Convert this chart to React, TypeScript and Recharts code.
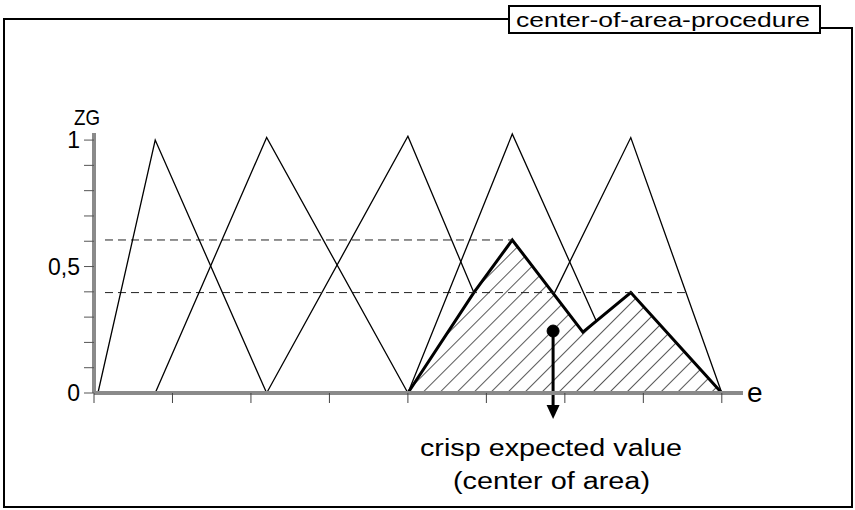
import React from 'react';
import { ComposedChart, Line, Area, XAxis, YAxis, ReferenceDot, ReferenceLine } from 'recharts';

const xTicks = [0, 1, 2, 3, 4, 5, 6, 7, 8];
const yTicks = [0, 0.1, 0.2, 0.3, 0.4, 0.5, 0.6, 0.7, 0.8, 0.9, 1];
const yTickLabels: Record<string, string> = { '0': '0', '0.5': '0,5', '1': '1' };

const triangle1 = [{ x: 0.05, y: 0 }, { x: 0.78, y: 1.0 }, { x: 2.2, y: 0 }];
const triangle2 = [{ x: 0.78, y: 0 }, { x: 2.2, y: 1.01 }, { x: 4.0, y: 0 }];
const triangle3 = [{ x: 2.2, y: 0 }, { x: 4.0, y: 1.015 }, { x: 4.84, y: 0.397 }];
const triangle4 = [{ x: 4.0, y: 0 }, { x: 5.33, y: 1.024 }, { x: 6.4, y: 0.285 }];
const triangle5 = [{ x: 5.87, y: 0.397 }, { x: 6.84, y: 1.01 }, { x: 8.0, y: 0 }];
const upperCut = [{ x: 0.14, y: 0.605 }, { x: 5.33, y: 0.605 }];
const lowerCut = [{ x: 0.14, y: 0.397 }, { x: 7.55, y: 0.397 }];
const resultArea = [
  { x: 4.0, y: 0 },
  { x: 4.84, y: 0.397 },
  { x: 5.33, y: 0.605 },
  { x: 6.23, y: 0.241 },
  { x: 6.84, y: 0.397 },
  { x: 8.0, y: 0 },
];
const centroid = { x: 5.85, y: 0.245 };
const arrowEndY = -0.103;

const FONT = '"Liberation Sans", Arial, Helvetica, sans-serif';

const YTick = (props: any) => {
  const { x, y, payload } = props;
  const label = yTickLabels[String(payload.value)];
  if (!label) return <g />;
  return (
    <text x={x} y={y} dy={8} textAnchor="end" fontSize={23} fill="#000" fontFamily={FONT}>
      {label}
    </text>
  );
};

const EmptyTick = () => <g />;

const ArrowShape = (props: any) => {
  const { x1, y1, x2, y2 } = props;
  const head = 14;
  return (
    <g>
      <line x1={x1} y1={y1} x2={x2} y2={y2 - head + 1} stroke="#000" strokeWidth={3} />
      <polygon points={`${x2 - 6.5},${y2 - head} ${x2 + 6.5},${y2 - head} ${x2},${y2}`} fill="#000" />
    </g>
  );
};

export default function App() {
  const thin = { stroke: '#000', strokeWidth: 1.3, dot: false, activeDot: false, isAnimationActive: false, type: 'linear' as const };
  return (
    <div style={{ position: 'absolute', left: 0, top: 0, width: 855, height: 510, background: '#fff' }}>
      <ComposedChart
        width={855}
        height={510}
        margin={{ top: 133, right: 112, bottom: 116, left: 93 }}
        style={{ fontFamily: FONT }}
      >
        <defs>
          <pattern id="hatch" patternUnits="userSpaceOnUse" width="12" height="12" patternTransform="rotate(45)">
            <line x1="0" y1="-2" x2="0" y2="14" stroke="#000" strokeWidth="1.3" />
          </pattern>
        </defs>
        <XAxis
          type="number"
          dataKey="x"
          domain={[0, 8.27]}
          ticks={xTicks}
          height={1}
          tickSize={10}
          tick={EmptyTick}
          tickLine={{ stroke: '#444', strokeWidth: 1 }}
          axisLine={{ stroke: '#8a8a8a', strokeWidth: 4 }}
          interval={0}
        />
        <YAxis
          type="number"
          dataKey="y"
          domain={[0, 1.028]}
          ticks={yTicks}
          width={1}
          tickSize={10}
          tickMargin={4}
          tick={YTick}
          tickLine={{ stroke: '#555', strokeWidth: 1 }}
          axisLine={{ stroke: '#8a8a8a', strokeWidth: 4 }}
          interval={0}
        />
        <Area
          data={resultArea}
          dataKey="y"
          type="linear"
          stroke="#000"
          strokeWidth={3}
          strokeLinejoin="miter"
          fill="url(#hatch)"
          fillOpacity={1}
          dot={false}
          activeDot={false}
          baseValue={0}
          isAnimationActive={false}
        />
        <Line data={upperCut} dataKey="y" {...thin} stroke="#222" strokeWidth={1} strokeDasharray="8 5" />
        <Line data={lowerCut} dataKey="y" {...thin} stroke="#222" strokeWidth={1} strokeDasharray="8 5" />
        <Line data={triangle1} dataKey="y" {...thin} />
        <Line data={triangle2} dataKey="y" {...thin} />
        <Line data={triangle3} dataKey="y" {...thin} />
        <Line data={triangle4} dataKey="y" {...thin} />
        <Line data={triangle5} dataKey="y" {...thin} />
        <ReferenceLine
          segment={[{ x: centroid.x, y: centroid.y }, { x: centroid.x, y: arrowEndY }]}
          ifOverflow="visible"
          stroke="#000"
          strokeWidth={3}
          shape={ArrowShape}
        />
        <ReferenceDot x={centroid.x} y={centroid.y} r={6} fill="#000" stroke="#000" ifOverflow="visible" />

        {/* frame and title */}
        <path d="M 509 19 H 4 V 507 H 852 V 28 H 820" fill="none" stroke="#000" strokeWidth={2} />
        <rect x={509} y={6} width={311} height={27} fill="#fff" stroke="#000" strokeWidth={2} />
        <text x={516} y={27} fontSize={21} fontFamily={FONT} fill="#000" textLength={294} lengthAdjust="spacingAndGlyphs">
          center-of-area-procedure
        </text>

        {/* axis names */}
        <text x={74} y={125} fontSize={22} fontFamily={FONT} fill="#000" textLength={26} lengthAdjust="spacingAndGlyphs">ZG</text>
        <text x={747} y={402} fontSize={28} fontFamily={FONT} fill="#000">e</text>

        {/* annotation */}
        <text x={420} y={456} fontSize={23} fontFamily={FONT} fill="#000" textLength={262} lengthAdjust="spacingAndGlyphs">
          crisp expected value
        </text>
        <text x={453} y={489} fontSize={23} fontFamily={FONT} fill="#000" textLength={197} lengthAdjust="spacingAndGlyphs">
          (center of area)
        </text>
      </ComposedChart>
    </div>
  );
}
